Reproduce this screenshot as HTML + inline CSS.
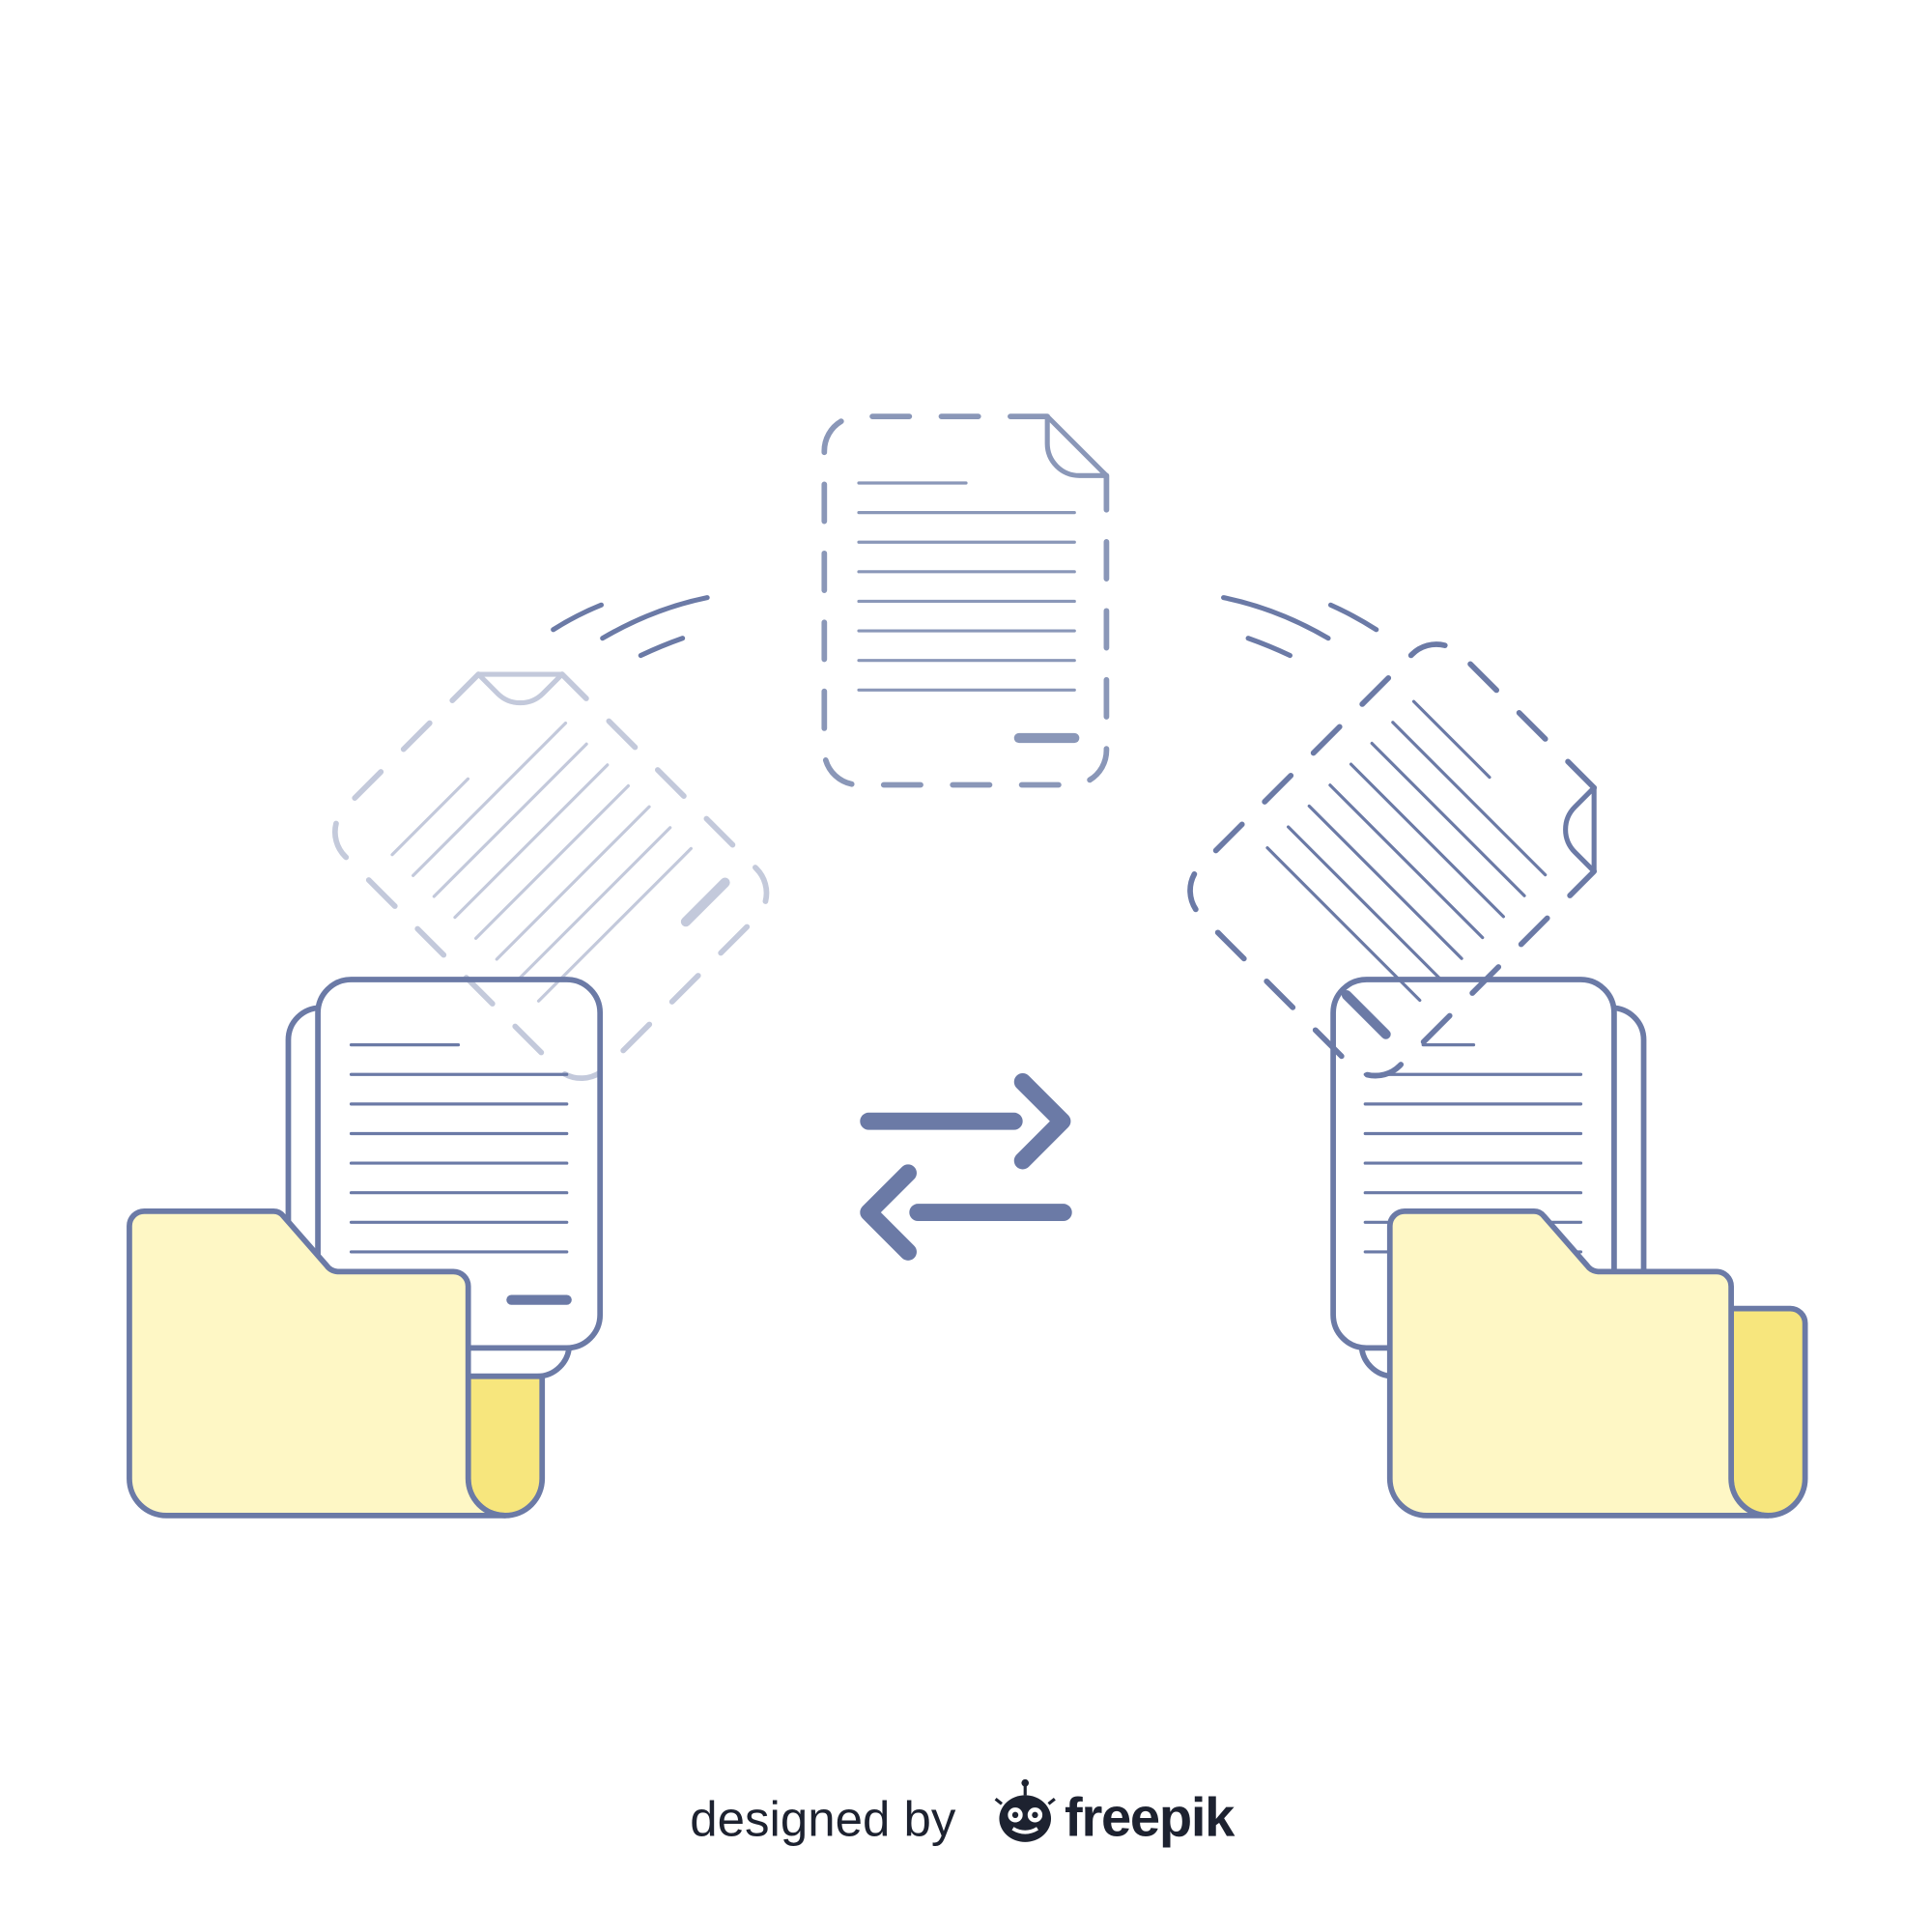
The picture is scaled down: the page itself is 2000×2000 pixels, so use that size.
<!DOCTYPE html>
<html><head><meta charset="utf-8"><style>
html,body{margin:0;padding:0;background:#fff;}
svg{display:block}
</style></head><body>
<svg width="2000" height="2000" viewBox="0 0 1568 1568" xmlns="http://www.w3.org/2000/svg">
<defs>
<g id="doc">
  <path d="M850,338 H697 a28,28 0 0 0 -28,28 V609 a28,28 0 0 0 28,28 H870 a28,28 0 0 0 28,-28 V386" fill="none" stroke-width="4.5" stroke-linecap="round" stroke-dasharray="30,26"/>
  <path d="M850,338 L898,386 H876 a26,26 0 0 1 -26,-26 Z" fill="none" stroke-width="4" stroke-linejoin="round"/>
  <g stroke-width="2.5" stroke-linecap="round">
    <line x1="697" y1="392" x2="784" y2="392"/>
    <line x1="697" y1="416" x2="872" y2="416"/>
    <line x1="697" y1="440" x2="872" y2="440"/>
    <line x1="697" y1="464" x2="872" y2="464"/>
    <line x1="697" y1="488" x2="872" y2="488"/>
    <line x1="697" y1="512" x2="872" y2="512"/>
    <line x1="697" y1="536" x2="872" y2="536"/>
    <line x1="697" y1="560" x2="872" y2="560"/>
  </g>
  <line x1="827" y1="599" x2="872" y2="599" stroke-width="8" stroke-linecap="round"/>
</g>
</defs>

<!-- LEFT SIDE -->
<g stroke="#6b7aa6" stroke-width="4.5" fill="#fff">
  <rect x="234" y="818" width="228" height="299" rx="26"/>
  <rect x="258" y="795" width="229" height="299" rx="27"/>
</g>
<g stroke="#6b7aa6" stroke-width="2.5" stroke-linecap="round">
  <line x1="285" y1="848" x2="372" y2="848"/>
  <line x1="285" y1="872" x2="460" y2="872"/>
  <line x1="285" y1="896" x2="460" y2="896"/>
  <line x1="285" y1="920" x2="460" y2="920"/>
  <line x1="285" y1="944" x2="460" y2="944"/>
  <line x1="285" y1="968" x2="460" y2="968"/>
  <line x1="285" y1="992" x2="460" y2="992"/>
  <line x1="285" y1="1016" x2="460" y2="1016"/>
</g>
<line x1="415" y1="1055" x2="460" y2="1055" stroke="#6b7aa6" stroke-width="8" stroke-linecap="round"/>
<path d="M380,1117 H440 V1200 A30,30 0 0 1 380,1200 Z" fill="#f7e67d" stroke="#6b7aa6" stroke-width="4.5"/>
<path d="M105,995 a12,12 0 0 1 12,-12 H222 a10,10 0 0 1 8,4 L265,1027 a12,12 0 0 0 9,5 H368 a12,12 0 0 1 12,12 V1200 A30,30 0 0 0 410,1230 H135 A30,30 0 0 1 105,1200 Z" fill="#fef7c5" stroke="#6b7aa6" stroke-width="4.5" stroke-linejoin="round"/>

<!-- RIGHT SIDE -->
<g stroke="#6b7aa6" stroke-width="4.5" fill="#fff">
  <rect x="1105" y="818" width="229" height="299" rx="26"/>
  <rect x="1082" y="795" width="228" height="299" rx="27"/>
</g>
<g stroke="#6b7aa6" stroke-width="2.5" stroke-linecap="round">
  <line x1="1155" y1="848" x2="1196" y2="848"/>
  <line x1="1108" y1="872" x2="1283" y2="872"/>
  <line x1="1108" y1="896" x2="1283" y2="896"/>
  <line x1="1108" y1="920" x2="1283" y2="920"/>
  <line x1="1108" y1="944" x2="1283" y2="944"/>
  <line x1="1108" y1="968" x2="1283" y2="968"/>
  <line x1="1108" y1="992" x2="1283" y2="992"/>
  <line x1="1108" y1="1016" x2="1283" y2="1016"/>
</g>
<path d="M1405,1062 H1453 a12,12 0 0 1 12,12 V1200 A30,30 0 0 1 1405,1200 Z" fill="#f7e67d" stroke="#6b7aa6" stroke-width="4.5"/>
<path d="M1128,995 a12,12 0 0 1 12,-12 H1245 a10,10 0 0 1 8,4 L1288,1027 a12,12 0 0 0 9,5 H1393 a12,12 0 0 1 12,12 V1200 A30,30 0 0 0 1435,1230 H1158 A30,30 0 0 1 1128,1200 Z" fill="#fef7c5" stroke="#6b7aa6" stroke-width="4.5" stroke-linejoin="round"/>

<!-- rotated docs -->
<g transform="translate(447,700) rotate(-45) translate(-783.5,-487.5)" stroke="#6b7aa6" opacity="0.4">
  <use href="#doc"/>
</g>
<g transform="translate(1141,698) rotate(45) translate(-783.5,-487.5)" stroke="#6b7aa6">
  <use href="#doc"/>
</g>

<!-- center doc -->
<g stroke="#8a97b8"><use href="#doc"/></g>

<!-- arcs -->
<g fill="none" stroke="#6b7aa6" stroke-width="4" stroke-linecap="round">
  <path d="M449,511 Q468,499 488,491"/>
  <path d="M489,518 Q530,494 574,485"/>
  <path d="M520,532 Q537,524 554,518"/>
  <path d="M1117,511 Q1098,499 1080,491"/>
  <path d="M1078,518 Q1037,494 993,485"/>
  <path d="M1047,532 Q1030,524 1013,518"/>
</g>

<!-- arrows -->
<g fill="none" stroke="#6b7aa6" stroke-width="14" stroke-linecap="round" stroke-linejoin="round">
  <line x1="705" y1="910" x2="823" y2="910"/>
  <polyline points="830,878 862,910 830,942"/>
  <line x1="745" y1="984" x2="863" y2="984"/>
  <polyline points="737,952 705,984 737,1016"/>
</g>

<!-- credit -->
<text x="560" y="1490" font-family="Liberation Sans, sans-serif" font-size="40" fill="#1d2230">designed by</text>
<g transform="translate(832,1474)">
  <ellipse cx="0" cy="2" rx="21" ry="19" fill="#1d2230"/>
  <circle cx="-8" cy="-1" r="6" fill="#fff"/><circle cx="8" cy="-1" r="6" fill="#fff"/>
  <circle cx="-8" cy="-1" r="2.5" fill="#1d2230"/><circle cx="8" cy="-1" r="2.5" fill="#1d2230"/>
  <path d="M-10,10 Q0,16 10,10" stroke="#fff" stroke-width="3" fill="none"/>
  <line x1="0" y1="-17" x2="0" y2="-26" stroke="#1d2230" stroke-width="2.5"/>
  <circle cx="0" cy="-27" r="3" fill="#1d2230"/>
  <line x1="-19" y1="-10" x2="-24" y2="-14" stroke="#1d2230" stroke-width="2.5"/>
  <line x1="19" y1="-10" x2="24" y2="-14" stroke="#1d2230" stroke-width="2.5"/>
</g>
<text x="864" y="1490" font-family="Liberation Sans, sans-serif" font-size="44" font-weight="bold" fill="#1d2230" letter-spacing="-1">freepik</text>
</svg>
</body></html>
